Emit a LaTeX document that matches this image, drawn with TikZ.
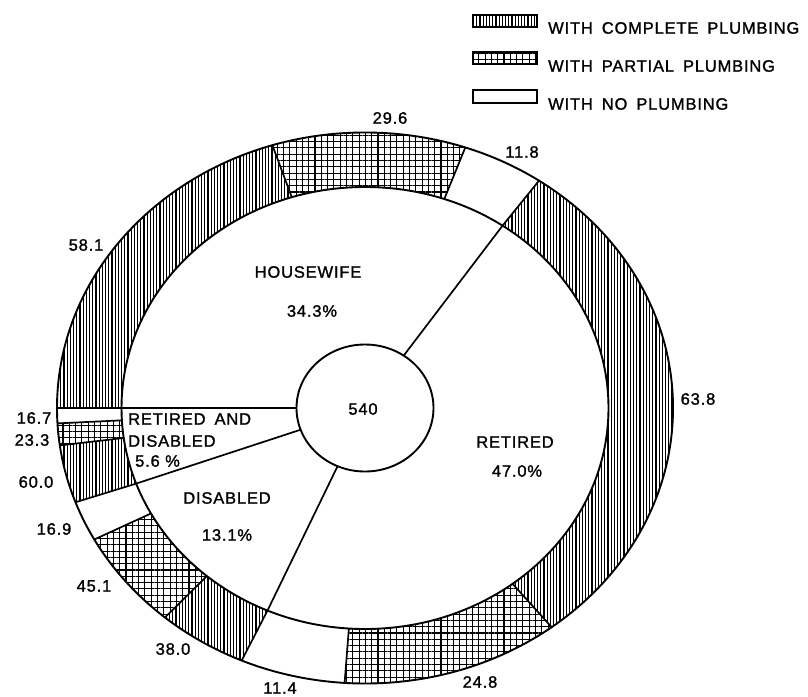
\documentclass[tikz,border=0pt]{standalone}
\usepackage{fontspec}
\setmainfont{Liberation Sans}[LetterSpace=5,FakeBold=1.3]
\usetikzlibrary{patterns.meta}
\newcommand\lab{\fontsize{16.5}{19}\selectfont}
\newcommand\wg{\hspace{9pt}}
\def\outA{308}\def\outB{275.5}\def\innA{243.5}\def\innB{221}
\def\cirA{68.5}\def\cirB{63.5}
\tikzset{
 complete/.style={pattern={Lines[angle=90,distance=3.2pt,line width=1.1pt]}},
 partial/.style={pattern={Hatch[angle=0,distance=6.3pt,line width=1.1pt]}},
 noplumb/.style={fill=white},
 lbl/.style={inner sep=0pt, font=\lab},
 rim/.style={line width=1.9pt},
 seam/.style={line width=1.7pt},
}
\newcommand\ringseg[3]{\path[#3] plot[domain=#1:#2,samples=60] ({\outA*cos(\x)},{-\outB*sin(\x)}) -- plot[domain=#2:#1,samples=60] ({\innA*cos(\x)},{-\innB*sin(\x)}) -- cycle;}
\newcommand\seamline[1]{\draw[seam] ({\innA*cos(#1)},{-\innB*sin(#1)}) -- ({\outA*cos(#1)},{-\outB*sin(#1)});}
\newcommand\pieline[1]{\draw[seam] ({\cirA*cos(#1)},{-\cirB*sin(#1)}) -- ({\innA*cos(#1)},{-\innB*sin(#1)});}
\begin{document}
\begin{tikzpicture}[x=1pt,y=-1pt]
\fill[white] (0,0) rectangle (808,696);
\useasboundingbox (0,0) rectangle (808,696);
% legend
\draw[seam,complete] (473,15) rectangle (537,27);
\draw[seam,partial] (473,52) rectangle (537,64);
\draw[seam,noplumb] (473,90) rectangle (537,103);
\node[lbl,anchor=west] (lg1) at (548,28) {WITH\wg COMPLETE\wg PLUMBING};
\node[lbl,anchor=west] (lg2) at (548,66) {WITH\wg PARTIAL\wg PLUMBING};
\node[lbl,anchor=west] (lg3) at (548,104) {WITH\wg NO\wg PLUMBING};
% chart
\begin{scope}[shift={(365,408)}]
 \ringseg{180}{107.5}{complete}
 \ringseg{107.5}{71}{partial}
 \ringseg{71}{55.6}{noplumb}
 \ringseg{55.6}{-52.7}{complete}
 \ringseg{-52.7}{-93.8}{partial}
 \ringseg{-93.8}{-113.6}{noplumb}
 \ringseg{-113.6}{-130.5}{complete}
 \ringseg{-130.5}{-151.5}{partial}
 \ringseg{-151.5}{-160}{noplumb}
 \ringseg{-160}{-172.2}{complete}
 \ringseg{-172.2}{-176.8}{partial}
 \ringseg{-176.8}{-180}{noplumb}
 \draw[rim] (0,0) ellipse [x radius=\outA, y radius=\outB];
 \draw[rim] (0,0) ellipse [x radius=\innA, y radius=\innB];
 \foreach \t in {180,107.5,71,55.6,-52.7,-93.8,-113.6,-130.5,-151.5,-160,-172.2,-176.8} {\seamline{\t}}
 \foreach \t in {55.6,-113.6,-160,180} {\pieline{\t}}
 \draw[rim,fill=white] (0,0) ellipse [x radius=\cirA, y radius=\cirB];
\end{scope}
\node[lbl] (total) at (363,409) {540};
\node[lbl] (hw) at (308,272) {HOUSEWIFE};
\node[lbl] (hwp) at (312,311) {34.3\%};
\node[lbl] (rt) at (515,442) {RETIRED};
\node[lbl] (rtp) at (517,471) {47.0\%};
\node[lbl,anchor=west] (rd1) at (128,419) {RETIRED\wg AND};
\node[lbl,anchor=west] (rd2) at (128,441) {DISABLED};
\node[lbl,anchor=west] (rd3) at (135,461) {5.6 \%};
\node[lbl] (ds) at (227,498) {DISABLED};
\node[lbl] (dsp) at (227,535) {13.1\%};
\node[lbl] (v296) at (390,118) {29.6};
\node[lbl] (v118) at (522,152) {11.8};
\node[lbl] (v581) at (86,245) {58.1};
\node[lbl] (v638) at (698,399) {63.8};
\node[lbl] (v248) at (480,682) {24.8};
\node[lbl] (v114) at (280,688) {11.4};
\node[lbl] (v380) at (173,649) {38.0};
\node[lbl] (v451) at (94,586) {45.1};
\node[lbl] (v169) at (54,529) {16.9};
\node[lbl] (v600) at (36,482) {60.0};
\node[lbl] (v233) at (32,440) {23.3};
\node[lbl] (v167) at (34,418) {16.7};
\end{tikzpicture}
\end{document}
